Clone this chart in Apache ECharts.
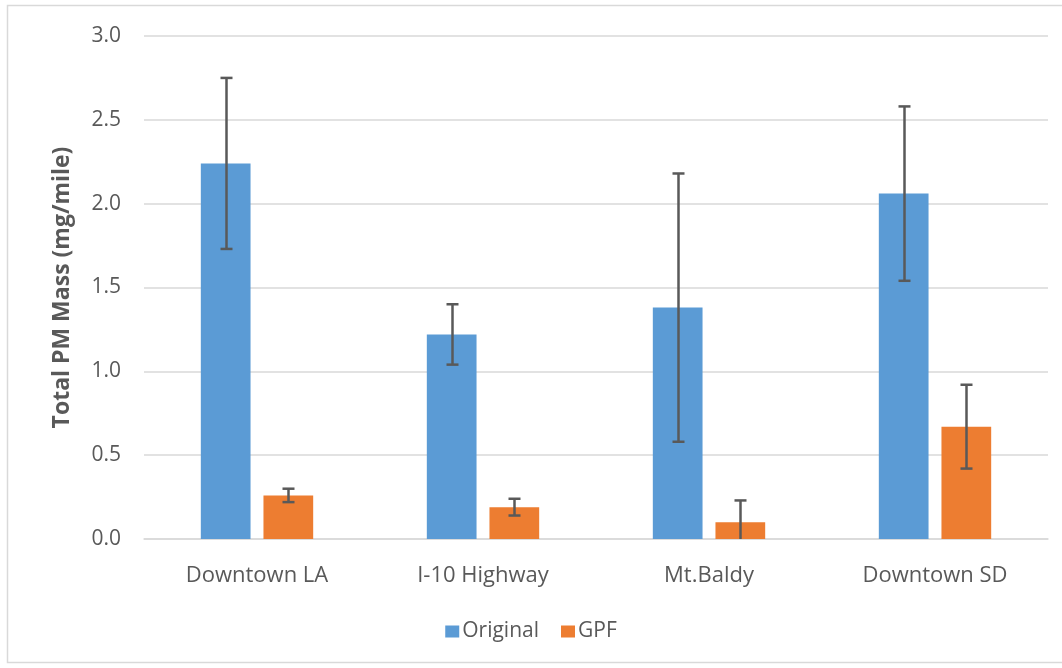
<!DOCTYPE html>
<html>
<head>
<meta charset="utf-8">
<script src="https://cdn.jsdelivr.net/npm/echarts@6/dist/echarts.min.js"></script>
<style>
html,body{margin:0;padding:0;background:#fff;}
#chart{width:1062px;height:668px;}
</style>
</head>
<body>
<div id="chart"></div>
<script>
var categories = ['Downtown LA', 'I-10 Highway', 'Mt.Baldy', 'Downtown SD'];
var originalValues = [2.24, 1.22, 1.38, 2.06];
var originalErrors = [0.51, 0.18, 0.80, 0.52];
var gpfValues = [0.26, 0.19, 0.10, 0.67];
var gpfErrors = [0.04, 0.05, 0.13, 0.25];
var yTicks = { min: 0, max: 3, interval: 0.5 };

var FONT = 'Open Sans';
var TXT = '#595959';
var BAR_W = 0.22, BAR_GAP = 0.26;

function errData(vals, errs) {
  return vals.map(function (v, i) { return [i, v - errs[i], v + errs[i]]; });
}

function errRender(side) {
  return function (params, api) {
    var idx = api.value(0);
    var lo = api.coord([idx, api.value(1)]);
    var hi = api.coord([idx, api.value(2)]);
    var band = api.size([1, 0])[0];
    var w = band * BAR_W;
    var off = side * (w / 2 + w * BAR_GAP / 2);
    var x = Math.round(lo[0] + off) + 0.5;
    var cap = 6;
    var style = { stroke: '#595959', lineWidth: 2.5 };
    return {
      type: 'group',
      children: [
        { type: 'line', shape: { x1: x, y1: lo[1], x2: x, y2: hi[1] }, style: style },
        { type: 'line', shape: { x1: x - cap, y1: hi[1], x2: x + cap, y2: hi[1] }, style: style },
        { type: 'line', shape: { x1: x - cap, y1: lo[1], x2: x + cap, y2: lo[1] }, style: style }
      ]
    };
  };
}

var chart = echarts.init(document.getElementById('chart'), null, { renderer: 'canvas' });
chart.setOption({
  backgroundColor: '#fff',
  animation: false,
  graphic: [{
    type: 'rect', silent: true, z: -1,
    shape: { x: 7.5, y: 5.5, width: 1060, height: 657 },
    style: { fill: 'none', stroke: '#d9d9d9', lineWidth: 1.5 }
  }],
  grid: { left: 144, right: 14, top: 36, bottom: 129 },
  legend: {
    bottom: 21,
    left: 'center',
    itemWidth: 14, itemHeight: 12, itemGap: 22,
    icon: 'rect',
    textStyle: { fontFamily: FONT, fontSize: 21, color: TXT, padding: [0, 0, 0, -2] },
    data: ['Original', 'GPF']
  },
  xAxis: {
    type: 'category',
    data: categories,
    axisLine: { lineStyle: { color: '#d9d9d9', width: 1.5 } },
    axisTick: { show: false },
    axisLabel: { fontFamily: FONT, fontSize: 22, color: TXT, margin: 26 }
  },
  yAxis: {
    type: 'value',
    min: yTicks.min, max: yTicks.max, interval: yTicks.interval,
    name: 'Total PM Mass (mg/mile)',
    nameLocation: 'middle',
    nameGap: 70,
    nameTextStyle: { fontFamily: FONT, fontSize: 23, fontWeight: 'bold', color: TXT },
    axisLine: { show: false },
    axisTick: { show: false },
    splitLine: { lineStyle: { color: '#d9d9d9', width: 1.5 } },
    axisLabel: {
      fontFamily: FONT, fontSize: 21, color: TXT, margin: 23,
      formatter: function (v) { return v.toFixed(1); }
    }
  },
  series: [
    {
      name: 'Original', type: 'bar', data: originalValues,
      barWidth: (BAR_W * 100) + '%', barGap: (BAR_GAP * 100) + '%',
      itemStyle: { color: '#5b9bd5' }
    },
    {
      name: 'GPF', type: 'bar', data: gpfValues,
      barWidth: (BAR_W * 100) + '%', barGap: (BAR_GAP * 100) + '%',
      itemStyle: { color: '#ed7d31' }
    },
    {
      type: 'custom', name: 'errOriginal', renderItem: errRender(-1),
      data: errData(originalValues, originalErrors), z: 10, clip: true,
      encode: { x: 0, y: [1, 2] }
    },
    {
      type: 'custom', name: 'errGPF', renderItem: errRender(1),
      data: errData(gpfValues, gpfErrors), z: 10, clip: true,
      encode: { x: 0, y: [1, 2] }
    }
  ]
});
</script>
</body>
</html>
